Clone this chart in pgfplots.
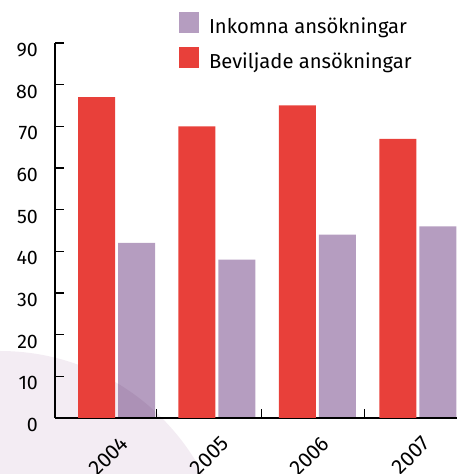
\documentclass[border=0pt]{standalone}
\usepackage{fontspec}
\setmainfont{Fira Sans}
\usepackage{pgfplots}
\pgfplotsset{compat=1.18}
\definecolor{barred}{RGB}{232,64,58}
\definecolor{barpurple}{RGB}{181,157,192}
\definecolor{bgcircle}{RGB}{243,236,243}
\begin{document}
\begin{tikzpicture}
\fill[bgcircle] (-27.5pt,-81pt) circle (114.5pt);
\begin{axis}[
  at={(0,0)}, anchor=south west,
  scale only axis, width=201pt, height=187.5pt,
  xmin=-0.613, xmax=3.39, ymin=0, ymax=90,
  axis x line*=bottom, axis y line*=left,
  axis line style={line width=0.8pt, black},
  ybar=1.5pt, bar width=18.5pt,
  ytick={0,10,...,90},
  tick align=inside, major tick length=4.5pt,
  tick style={line width=0.6pt, black},
  xtick={0.40,1.44,2.47}, xticklabel=\empty,
  extra x ticks={0,1,2,3}, extra x tick labels={2004,2005,2006,2007},
  extra x tick style={major tick length=0pt,
    xticklabel style={font=\fontsize{10.5pt}{12pt}\selectfont, xshift=6.6pt, yshift=-8.6pt, rotate=45, anchor=east}},
  yticklabel style={font=\fontsize{9.8pt}{11pt}\selectfont, xshift=-5pt, yshift=-3.5pt},
  /pgf/number format/assume math mode=true,
  legend style={at={(0.3085,1.0827)}, anchor=north west, draw=none, fill=none,
    inner sep=0pt, outer sep=0pt, row sep=5pt, column sep=4.5pt,
    font=\fontsize{10.1pt}{12pt}\selectfont, nodes={inner sep=0.5pt}},
  legend cell align=left,
  reverse legend,
  legend image code/.code={\path[fill,#1] (0pt,-3pt) rectangle (10pt,7.5pt);},
]
\addplot[fill=barred, draw=none] coordinates {(0,77) (1,70) (2,75) (3,67)};
\addplot[fill=barpurple, draw=none, blend mode=multiply] coordinates {(0,42) (1,38) (2,44) (3,46)};
\legend{Beviljade ansökningar, Inkomna ansökningar}
\end{axis}
\pgfresetboundingbox
\path[use as bounding box] (-27.5pt,-28pt) rectangle (201pt,209pt);
\end{tikzpicture}
\end{document}
